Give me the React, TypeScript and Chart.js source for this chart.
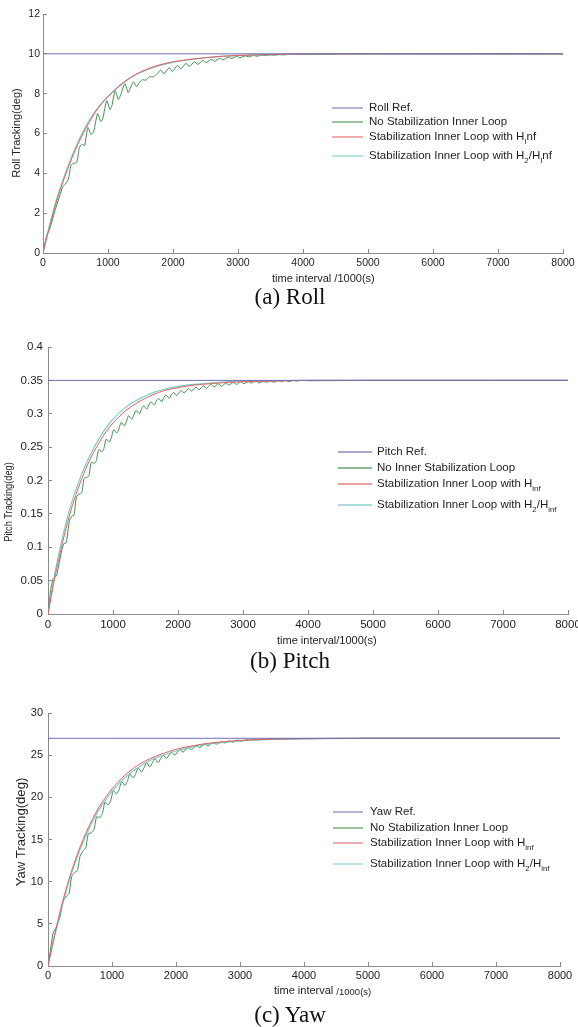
import React, { useEffect, useRef } from "react";
import { Chart, registerables } from "chart.js";
Chart.register(...registerables);

// ---------- shared data ----------
const xTicks = [0, 1000, 2000, 3000, 4000, 5000, 6000, 7000, 8000];
const refTime = [0, 8000];
const smoothTime = [0, 100, 200, 300, 400, 500, 600, 700, 800, 900, 1000, 1200, 1400, 1600, 1800, 2000, 2250, 2500, 2750, 3000, 3500, 4000, 5000, 6000, 7000, 8000];

// ---------- Roll ----------
const rollYTicks = [0, 2, 4, 6, 8, 10, 12];
const rollRef = [10, 10];
const rollHinf = [0, 1.3, 2.5, 3.5, 4.4, 5.2, 5.9, 6.5, 7.05, 7.5, 7.85, 8.47, 8.92, 9.23, 9.45, 9.6, 9.72, 9.81, 9.88, 9.92, 9.97, 9.99, 10, 10, 10, 10];
const rollH2Hinf = [0, 1.4, 2.6, 3.6, 4.5, 5.3, 6.0, 6.6, 7.1, 7.5, 7.85, 8.45, 8.9, 9.2, 9.42, 9.57, 9.7, 9.8, 9.87, 9.91, 9.96, 9.98, 10, 10, 10, 10];
const rollNoStabTime = [0, 50, 100, 130, 200, 260, 300, 340, 390, 430, 470, 520, 560, 600, 640, 690, 740, 780, 840, 890, 920, 980, 1030, 1060, 1110, 1160, 1190, 1260, 1310, 1340, 1390, 1440, 1480, 1530, 1580, 1640, 1700, 1760, 1810, 1860, 1940, 1990, 2070, 2120, 2200, 2250, 2330, 2380, 2460, 2510, 2590, 2640, 2720, 2770, 2850, 2900, 2980, 3030, 3110, 3160, 3240, 3290, 3370, 3420, 3500, 3550, 3630, 3700, 3800, 4000, 5000, 8000];
const rollNoStab = [0, 0.8, 1.2, 1.5, 2.3, 2.9, 3.3, 3.45, 3.7, 4.4, 4.5, 4.55, 5.3, 5.45, 5.4, 6.3, 5.95, 6.1, 7.0, 6.6, 6.75, 7.65, 7.2, 7.4, 8.15, 7.7, 7.9, 8.5, 8.05, 8.25, 8.6, 8.35, 8.55, 8.7, 8.68, 8.85, 8.85, 9.0, 9.19, 9.0, 9.3, 9.12, 9.42, 9.25, 9.52, 9.37, 9.6, 9.47, 9.67, 9.55, 9.73, 9.63, 9.78, 9.7, 9.83, 9.76, 9.87, 9.8, 9.9, 9.85, 9.92, 9.88, 9.94, 9.91, 9.95, 9.93, 9.96, 9.95, 9.97, 9.98, 10, 10];

// ---------- Pitch ----------
const pitchYTicks = [0, 0.05, 0.1, 0.15, 0.2, 0.25, 0.3, 0.35, 0.4];
const pitchRef = [0.35, 0.35];
const pitchHinf = [0, 0.052, 0.097, 0.137, 0.17, 0.198, 0.222, 0.242, 0.259, 0.274, 0.286, 0.305, 0.318, 0.328, 0.335, 0.339, 0.343, 0.345, 0.347, 0.348, 0.349, 0.35, 0.35, 0.35, 0.35, 0.35];
const pitchH2Hinf = [0, 0.058, 0.105, 0.145, 0.178, 0.205, 0.228, 0.248, 0.265, 0.28, 0.292, 0.31, 0.322, 0.331, 0.337, 0.341, 0.344, 0.346, 0.348, 0.349, 0.3495, 0.35, 0.35, 0.35, 0.35, 0.35];
const pitchNoStabTime = [0, 40, 80, 130, 190, 240, 280, 330, 370, 400, 440, 490, 520, 555, 600, 630, 665, 715, 745, 780, 830, 860, 895, 945, 975, 1010, 1060, 1090, 1125, 1175, 1205, 1240, 1290, 1320, 1355, 1405, 1435, 1470, 1520, 1550, 1585, 1635, 1665, 1700, 1750, 1780, 1815, 1865, 1895, 1930, 1980, 2045, 2095, 2160, 2210, 2275, 2325, 2390, 2440, 2505, 2555, 2620, 2670, 2735, 2785, 2850, 2900, 2965, 3015, 3080, 3130, 3195, 3245, 3310, 3360, 3425, 3475, 3540, 3590, 3655, 3705, 3770, 3820, 3900, 4000, 5000, 8000];
const pitchNoStab = [0, 0.035, 0.053, 0.057, 0.085, 0.105, 0.107, 0.14, 0.147, 0.148, 0.176, 0.18, 0.182, 0.203, 0.205, 0.207, 0.227, 0.226, 0.23, 0.246, 0.243, 0.248, 0.262, 0.258, 0.264, 0.276, 0.271, 0.277, 0.287, 0.282, 0.288, 0.297, 0.292, 0.298, 0.305, 0.3, 0.306, 0.312, 0.307, 0.313, 0.318, 0.313, 0.319, 0.323, 0.318, 0.324, 0.328, 0.323, 0.328, 0.332, 0.327, 0.335, 0.331, 0.338, 0.334, 0.34, 0.336, 0.342, 0.338, 0.344, 0.34, 0.345, 0.341, 0.346, 0.343, 0.347, 0.344, 0.348, 0.345, 0.348, 0.346, 0.349, 0.346, 0.349, 0.347, 0.349, 0.347, 0.35, 0.348, 0.35, 0.348, 0.35, 0.349, 0.35, 0.3495, 0.35, 0.35];

// ---------- Yaw ----------
const yawYTicks = [0, 5, 10, 15, 20, 25, 30];
const yawRef = [27, 27];
const yawHinf = [0, 3.6, 6.8, 9.6, 12.0, 14.1, 15.9, 17.5, 18.9, 20.0, 21.0, 22.6, 23.8, 24.6, 25.2, 25.7, 26.1, 26.4, 26.6, 26.75, 26.9, 26.95, 27, 27, 27, 27];
const yawH2Hinf = [0, 3.4, 6.5, 9.3, 11.7, 13.8, 15.6, 17.2, 18.6, 19.7, 20.7, 22.3, 23.5, 24.4, 25.0, 25.5, 25.95, 26.3, 26.5, 26.7, 26.85, 26.93, 27, 27, 27, 27];
const yawNoStabTime = [0, 30, 80, 130, 190, 240, 290, 330, 370, 420, 460, 500, 550, 590, 630, 680, 720, 760, 810, 850, 890, 940, 980, 1020, 1070, 1110, 1150, 1200, 1240, 1280, 1330, 1370, 1410, 1460, 1500, 1540, 1590, 1630, 1670, 1720, 1760, 1800, 1850, 1890, 1930, 1980, 2060, 2110, 2190, 2240, 2320, 2370, 2450, 2500, 2580, 2630, 2710, 2760, 2840, 2890, 2970, 3020, 3100, 3150, 3230, 3280, 3360, 3410, 3500, 3600, 3800, 4000, 5000, 8000];
const yawNoStab = [0, 1.5, 3.9, 4.6, 5.9, 7.8, 8.3, 8.6, 10.6, 11.1, 11.3, 13.0, 13.7, 14.0, 15.7, 15.8, 16.2, 17.7, 17.6, 18.1, 19.4, 19.1, 19.6, 20.8, 20.4, 20.9, 21.9, 21.4, 21.9, 22.8, 22.3, 22.8, 23.5, 23.0, 23.5, 24.1, 23.6, 24.1, 24.6, 24.1, 24.6, 25.0, 24.6, 25.0, 25.4, 25.0, 25.7, 25.35, 25.95, 25.65, 26.15, 25.9, 26.35, 26.1, 26.5, 26.3, 26.6, 26.45, 26.7, 26.55, 26.8, 26.65, 26.85, 26.75, 26.9, 26.8, 26.92, 26.85, 26.95, 26.9, 26.97, 26.98, 27, 27];

// ---------- texts ----------
type Seg = { t: string; sub?: boolean; small?: boolean };
const legendRoll: Seg[][] = [
  [{ t: "Roll Ref." }],
  [{ t: "No Stabilization Inner Loop" }],
  [{ t: "Stabilization Inner Loop with H" }, { t: "I", sub: true }, { t: "nf" }],
  [{ t: "Stabilization Inner Loop with H" }, { t: "2", sub: true }, { t: "/H" }, { t: "I", sub: true }, { t: "nf" }],
];
const legendPitch: Seg[][] = [
  [{ t: "Pitch Ref." }],
  [{ t: "No Inner Stabilization Loop" }],
  [{ t: "Stabilization Inner Loop with H" }, { t: "inf", sub: true }],
  [{ t: "Stabilization Inner Loop with H" }, { t: "2", sub: true }, { t: "/H" }, { t: "inf", sub: true }],
];
const legendYaw: Seg[][] = [
  [{ t: "Yaw Ref." }],
  [{ t: "No Stabilization Inner Loop" }],
  [{ t: "Stabilization Inner Loop with H" }, { t: "inf", sub: true }],
  [{ t: "Stabilization Inner Loop with H" }, { t: "2", sub: true }, { t: "/H" }, { t: "inf", sub: true }],
];

const REF_COLOR = "#6f6fb0";
const GREEN = "#3f8b4c";
const RED = "#e06060";
const CYAN = "#74c9c5";
const AXIS = "#8a8a8a";
const SANS = "'Liberation Sans', Arial, Helvetica, sans-serif";
const SERIF = "'Liberation Serif', 'Times New Roman', serif";

const pts = (xs: number[], ys: number[]) => xs.map((x, i) => ({ x, y: ys[i] }));

interface PanelCfg {
  id: string;
  top: number;
  height: number;
  area: { left: number; right: number; top: number; bottom: number };
  yMax: number;
  yTicks: number[];
  tickFont: number;
  yGap: number;
  xLabelOffset: number;
  ref: number[];
  hinf: number[];
  h2hinf: number[];
  noStabT: number[];
  noStab: number[];
  yTitle: { text: string; x: number; y: number; size: number; stretch: number };
  xTitle: { segs: Seg[]; x: number; y: number; size: number; smallSize?: number };
  legend: { x1: number; x2: number; tx: number; rows: number[]; size: number; items: Seg[][] };
  caption: { text: string; y: number };
}

const panels: PanelCfg[] = [
  {
    id: "roll",
    top: 0,
    height: 290,
    area: { left: 43, right: 563, top: 14, bottom: 253 },
    yMax: 12,
    yTicks: rollYTicks,
    tickFont: 10.5,
    yGap: 3,
    xLabelOffset: 10.5,
    ref: rollRef,
    hinf: rollHinf,
    h2hinf: rollH2Hinf,
    noStabT: rollNoStabTime,
    noStab: rollNoStab,
    yTitle: { text: "Roll Tracking(deg)", x: 17, y: 133, size: 11, stretch: 1 },
    xTitle: { segs: [{ t: "time interval /1000(s)" }], x: 272, y: 279, size: 11 },
    legend: { x1: 332, x2: 363, tx: 369, rows: [108, 122, 137, 156], size: 11.5, items: legendRoll },
    caption: { text: "(a) Roll", y: 297 },
  },
  {
    id: "pitch",
    top: 320,
    height: 330,
    area: { left: 48, right: 568, top: 347, bottom: 614 },
    yMax: 0.4,
    yTicks: pitchYTicks,
    tickFont: 11.5,
    yGap: 5,
    xLabelOffset: 11,
    ref: pitchRef,
    hinf: pitchHinf,
    h2hinf: pitchH2Hinf,
    noStabT: pitchNoStabTime,
    noStab: pitchNoStab,
    yTitle: { text: "Pitch Tracking(deg)", x: 9, y: 502, size: 11.5, stretch: 0.8 },
    xTitle: { segs: [{ t: "time interval/1000(s)" }], x: 277, y: 641, size: 11 },
    legend: { x1: 338, x2: 372, tx: 377, rows: [452, 468, 484, 505], size: 11.5, items: legendPitch },
    caption: { text: "(b) Pitch", y: 661 },
  },
  {
    id: "yaw",
    top: 690,
    height: 320,
    area: { left: 48, right: 560, top: 713, bottom: 966 },
    yMax: 30,
    yTicks: yawYTicks,
    tickFont: 11,
    yGap: 5,
    xLabelOffset: 10,
    ref: yawRef,
    hinf: yawHinf,
    h2hinf: yawH2Hinf,
    noStabT: yawNoStabTime,
    noStab: yawNoStab,
    yTitle: { text: "Yaw Tracking(deg)", x: 21.5, y: 832, size: 12.5, stretch: 1.05 },
    xTitle: { segs: [{ t: "time interval " }, { t: "/1000(s)", small: true }], x: 274, y: 991, size: 11, smallSize: 9.5 },
    legend: { x1: 333, x2: 363, tx: 370, rows: [812, 828, 843, 864], size: 11.5, items: legendYaw },
    caption: { text: "(c) Yaw", y: 1015 },
  },
];

function drawSegs(ctx: CanvasRenderingContext2D, segs: Seg[], x: number, y: number, size: number, smallSize?: number) {
  let cx = x;
  ctx.textBaseline = "middle";
  ctx.textAlign = "left";
  for (const s of segs) {
    let fs = size;
    let dy = 0;
    if (s.sub) {
      fs = size * 0.68;
      dy = size * 0.38;
    } else if (s.small) {
      fs = smallSize || size * 0.85;
      dy = size * 0.08;
    }
    ctx.font = `${fs}px ${SANS}`;
    ctx.fillText(s.t, cx, y + dy);
    cx += ctx.measureText(s.t).width;
  }
}

function Panel({ cfg }: { cfg: PanelCfg }) {
  const ref = useRef<HTMLCanvasElement | null>(null);
  useEffect(() => {
    const canvas = ref.current;
    if (!canvas) return;
    const H = cfg.height;
    const T = cfg.top;
    const areaTop = cfg.area.top - T;
    const areaBottom = cfg.area.bottom - T;
    const lh = cfg.tickFont * 1.2;

    const overlay = {
      id: "overlay_" + cfg.id,
      afterDraw(chart: any) {
        const ctx: CanvasRenderingContext2D = chart.ctx;
        ctx.save();
        ctx.fillStyle = "#1e1e1e";
        const yt = cfg.yTitle;
        ctx.save();
        ctx.translate(yt.x, yt.y - T);
        ctx.rotate(-Math.PI / 2);
        ctx.scale(yt.stretch, 1);
        ctx.font = `${yt.size}px ${SANS}`;
        ctx.textAlign = "center";
        ctx.textBaseline = "middle";
        ctx.fillText(yt.text, 0, 0);
        ctx.restore();
        const xt = cfg.xTitle;
        drawSegs(ctx, xt.segs, xt.x, xt.y - T, xt.size, xt.smallSize);
        const lg = cfg.legend;
        const colors = [REF_COLOR, GREEN, RED, CYAN];
        lg.items.forEach((segs, i) => {
          const y = lg.rows[i] - T;
          ctx.strokeStyle = colors[i];
          ctx.globalAlpha = 0.8;
          ctx.lineWidth = 1.3;
          ctx.beginPath();
          ctx.moveTo(lg.x1, y);
          ctx.lineTo(lg.x2, y);
          ctx.stroke();
          ctx.globalAlpha = 1;
          ctx.fillStyle = "#1e1e1e";
          drawSegs(ctx, segs, lg.tx, y, lg.size);
        });
        ctx.restore();
      },
    };

    const tickFont = { family: SANS, size: cfg.tickFont };
    const chart = new Chart(canvas, {
      type: "line",
      data: {
        datasets: [
          { label: "Ref", data: pts(refTime, cfg.ref), borderColor: REF_COLOR, borderWidth: 1, pointRadius: 0, tension: 0 },
          { label: "Hinf", data: pts(smoothTime, cfg.hinf), borderColor: RED, borderWidth: 1, pointRadius: 0, cubicInterpolationMode: "monotone" },
          { label: "H2/Hinf", data: pts(smoothTime, cfg.h2hinf), borderColor: CYAN, borderWidth: 1.1, pointRadius: 0, cubicInterpolationMode: "monotone" },
          { label: "NoStab", data: pts(cfg.noStabT, cfg.noStab), borderColor: GREEN, borderWidth: 1, pointRadius: 0, tension: 0.2 },
        ],
      } as any,
      options: {
        animation: false,
        responsive: false,
        devicePixelRatio: 1,
        events: [],
        layout: { padding: { left: 0, top: areaTop, right: 578 - cfg.area.right, bottom: 0 } },
        plugins: { legend: { display: false }, tooltip: { enabled: false }, title: { display: false } },
        scales: {
          x: {
            type: "linear",
            min: 0,
            max: 8000,
            afterBuildTicks: (s: any) => {
              s.ticks = xTicks.map((v) => ({ value: v }));
            },
            afterFit: (s: any) => {
              s.height = H - areaBottom;
              s.paddingLeft = 0;
              s.paddingRight = 0;
            },
            grid: { drawOnChartArea: false, drawTicks: true, tickLength: -4, color: AXIS, lineWidth: 1 },
            border: { display: true, color: AXIS, width: 1 },
            ticks: {
              autoSkip: false,
              maxRotation: 0,
              minRotation: 0,
              padding: cfg.xLabelOffset + 4 - lh / 2,
              font: tickFont,
              color: "#1e1e1e",
              callback: (v: any) => String(v),
            },
          },
          y: {
            type: "linear",
            min: 0,
            max: cfg.yMax,
            afterBuildTicks: (s: any) => {
              s.ticks = cfg.yTicks.map((v) => ({ value: v }));
            },
            afterFit: (s: any) => {
              s.width = cfg.area.left;
              s.paddingTop = 0;
              s.paddingBottom = 0;
            },
            grid: { drawOnChartArea: false, drawTicks: true, tickLength: -4, color: AXIS, lineWidth: 1 },
            border: { display: true, color: AXIS, width: 1 },
            ticks: {
              autoSkip: false,
              padding: cfg.yGap + 4,
              font: tickFont,
              color: "#1e1e1e",
              callback: (v: any) => String(v),
            },
          },
        },
      } as any,
      plugins: [overlay],
    });
    return () => chart.destroy();
  }, [cfg]);

  return (
    <>
      <canvas
        ref={ref}
        width={578}
        height={cfg.height}
        style={{ position: "absolute", left: 0, top: cfg.top, width: 578, height: cfg.height, display: "block" }}
      />
      <div
        style={{
          position: "absolute",
          left: 0,
          width: 580,
          top: cfg.caption.y - 14,
          height: 28,
          lineHeight: "28px",
          textAlign: "center",
          fontFamily: SERIF,
          fontSize: 23,
          color: "#111",
          whiteSpace: "nowrap",
        }}
      >
        {cfg.caption.text}
      </div>
    </>
  );
}

export default function App() {
  return (
    <div style={{ position: "absolute", left: 0, top: 0, width: 578, height: 1027, overflow: "hidden", background: "#fff" }}>
      {panels.map((p) => (
        <Panel key={p.id} cfg={p} />
      ))}
    </div>
  );
}
